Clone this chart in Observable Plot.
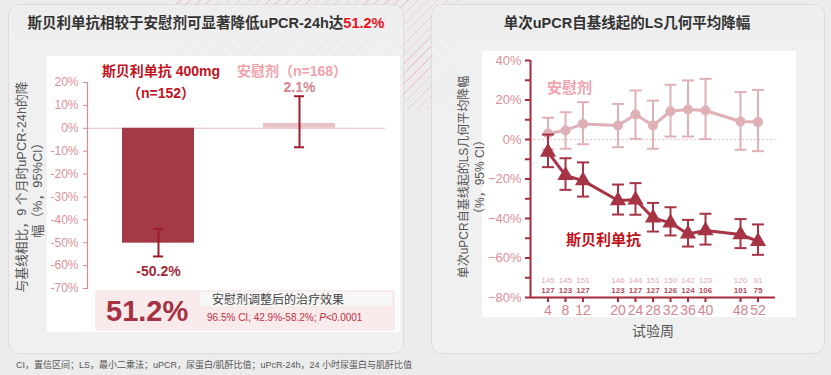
<!DOCTYPE html>
<html><head><meta charset="utf-8">
<script src="https://cdn.jsdelivr.net/npm/d3@7"></script>
<script src="https://cdn.jsdelivr.net/npm/@observablehq/plot@0.6"></script>
<style>
body{margin:0;width:831px;height:375px;overflow:hidden;background:#ececec;font-family:"Liberation Sans","Noto Sans CJK SC",sans-serif;position:relative}
.a{position:absolute}
.card{border:1px solid #dcdcdc;border-radius:11px;background:rgba(242,242,242,0.75)}
.tbar{border-radius:9px;background:#eeeeee;font-weight:bold;font-size:14.5px;color:#333;text-align:center;line-height:34px}
.white{background:#fff}
.rot{transform:rotate(-90deg);transform-origin:center center;text-align:center;color:#555;font-size:13px;line-height:16px;white-space:nowrap}
</style></head><body>
<div class="a" style="left:170px;top:0;width:290px;height:110px;background:repeating-linear-gradient(135deg,rgba(235,150,160,0.35) 0 1px,transparent 1px 7px)"></div>
<div class="a card" style="left:8px;top:4px;width:394px;height:348px"></div>
<div class="a card" style="left:431px;top:4px;width:392px;height:348px"></div>
<div class="a tbar" style="left:12px;top:6px;width:388px;height:34px">斯贝利单抗相较于安慰剂可显著降低uPCR-24h达<span style="color:#e8141c">51.2%</span></div>
<div class="a tbar" style="left:433px;top:6px;width:388px;height:34px">单次uPCR自基线起的LS几何平均降幅</div>
<div class="a white" style="left:47px;top:56px;width:353px;height:276px"></div>
<div class="a white" style="left:482px;top:51px;width:314px;height:266px"></div>

<div id="leftPlot" class="a" style="left:0;top:0;width:410px;height:300px"></div>
<div id="rightPlot" class="a" style="left:430px;top:0;width:380px;height:345px"></div>

<div class="a rot" style="left:-80px;top:171px;width:220px;height:32px;font-size:12.8px">与基线相比，9 个月时uPCR-24h的降<br>幅（%，95%CI）</div>
<div class="a rot" style="left:362px;top:161px;width:220px;height:32px;font-size:12px">单次uPCR自基线起的LS几何平均降幅<br>（%，95% CI）</div>

<div class="a" style="left:60px;top:60px;width:202px;text-align:center;font-weight:bold;font-size:14px;line-height:22px;color:#c0121c">斯贝利单抗 400mg<br>（n=152）</div>
<div class="a" style="left:230px;top:60px;width:124px;text-align:center;font-weight:bold;font-size:14px;line-height:22px;color:#f0a3ac">安慰剂（n=168）</div>

<div class="a" style="left:95px;top:290px;width:300px;height:41px;background:#f9eaec;border-radius:3px"></div>
<div class="a" style="left:200px;top:292px;width:192px;height:14px;background:#f7f7f8"></div>
<div class="a" style="left:106px;top:293px;font-weight:bold;font-size:29px;line-height:36px;color:#a53242">51.2%</div>
<div class="a" style="left:212px;top:293px;font-size:12px;line-height:14px;color:#444">安慰剂调整后的治疗效果</div>
<div class="a" style="left:207px;top:312px;font-size:10px;line-height:12px;color:#c0303c">96.5% CI, 42.9%-58.2%; <i>P</i>&lt;0.0001</div>

<div class="a" style="left:547px;top:76px;font-weight:bold;font-size:15px;color:#f0a3ac">安慰剂</div>
<div class="a" style="left:566px;top:228px;font-weight:bold;font-size:15px;color:#c0121c">斯贝利单抗</div>
<div class="a" style="left:632px;top:320px;font-size:14px;color:#555">试验周</div>

<div class="a" style="left:16px;top:358px;font-size:9px;color:#555">CI，置信区间；LS，最小二乘法；uPCR，尿蛋白/肌酐比值；uPcR-24h，24 小时尿蛋白与肌酐比值</div>
<script>
// ---- Left chart data ----
const groups = ["斯贝利单抗 400mg", "安慰剂"];
const barValues = [-50.2, 2.1];
const barLow = [-56, -8.3];
const barHigh = [-44, 14];
const leftTicks = [20, 10, 0, -10, -20, -30, -40, -50, -60, -70];

// ---- Right chart data ----
const weeks = [4, 8, 12, 20, 24, 28, 32, 36, 40, 48, 52];
const placeboMean = [3.0, 4.6, 7.9, 7.1, 12.7, 7.1, 14.3, 15.2, 14.7, 9.1, 8.8];
const placeboLow = [-5, -4.7, -2.4, -3.9, 0.3, -4.7, 1.5, 1.5, 0.2, -5.2, -5.9];
const placeboHigh = [11, 13.8, 18.9, 18, 24.8, 19.7, 27.7, 29.9, 30.7, 24, 25.1];
const drugMean = [-6.4, -18.2, -20.8, -30.9, -30.5, -39.7, -42.2, -47.8, -46.1, -48.1, -51.6];
const drugLow = [-14, -25.5, -28.9, -38, -38.1, -46.6, -48.6, -54.2, -53.2, -55, -58.4];
const drugHigh = [2.5, -9.5, -11.6, -22.8, -22.1, -32.1, -34.3, -40.7, -37.6, -40.3, -43];
const placeboN = [145, 145, 151, 146, 144, 151, 150, 142, 120, 120, 91];
const drugN = [127, 123, 127, 123, 127, 127, 126, 124, 106, 101, 75];
const rightTicks = [40, 20, 0, -20, -40, -60, -80];
const rightMinor = [30, 10, -10, -30, -50, -70];

// styles
const drugColor = "#a63445", placeboColor = "#dfb1b7";
const barFill = ["#a43a48", "#e7c3c8"];
const leftAxisColor = "#d98a93", axisColor = "#a8293a";
const fontStack = "Liberation Sans, Noto Sans CJK SC, sans-serif";

const bars = groups.map((g, i) => ({g, i, v: barValues[i], lo: barLow[i], hi: barHigh[i]}));

const leftSvg = Plot.plot({
  width: 410, height: 300,
  marginLeft: 87, marginRight: 25, marginTop: 82, marginBottom: 12,
  style: {background: "none", fontFamily: fontStack},
  x: {type: "band", domain: groups, paddingInner: 0.489, paddingOuter: 0.301, align: 0.41, axis: null},
  y: {domain: [-70, 20], axis: null},
  color: {type: "identity"},
  marks: [
    Plot.ruleY([0], {stroke: "#eab8be", strokeWidth: 1}),
    Plot.barY(bars, {x: "g", y: "v", fill: d => barFill[d.i]}),
    Plot.ruleX(bars, {x: "g", y1: "lo", y2: "hi", stroke: "#9b1c2c", strokeWidth: 2}),
    Plot.tickY(bars, {x: "g", y: "lo", insetLeft: 31, insetRight: 31, stroke: "#9b1c2c", strokeWidth: 2}),
    Plot.tickY(bars, {x: "g", y: "hi", insetLeft: 31, insetRight: 31, stroke: "#9b1c2c", strokeWidth: 2}),
    Plot.axisY({ticks: leftTicks, tickFormat: d => d + "%", tickSize: 4, tickPadding: 5, stroke: leftAxisColor, fill: "#dc8f98", fontSize: 12, label: null}),
    Plot.frame({anchor: "left", stroke: leftAxisColor, strokeWidth: 1.2}),
    Plot.text(bars.filter(d => d.v < 0), {x: "g", y: "lo", text: d => d.v.toFixed(1) + "%", dy: 15, fill: "#a32a3a", fontSize: 14, fontWeight: "bold"}),
    Plot.text(bars.filter(d => d.v >= 0), {x: "g", y: "hi", text: d => d.v.toFixed(1) + "%", dy: -9, fill: "#d3848f", fontSize: 14, fontWeight: "bold"})
  ]
});
document.getElementById("leftPlot").append(leftSvg);

const rows = weeks.map((w, i) => ({w, pm: placeboMean[i], pl: placeboLow[i], ph: placeboHigh[i], dm: drugMean[i], dl: drugLow[i], dh: drugHigh[i], pn: placeboN[i], dn: drugN[i]}));
const capSymbol = {draw(ctx, size) { const r = Math.sqrt(size / Math.PI); ctx.moveTo(-r, 0); ctx.lineTo(r, 0); }};

const rightSvg = Plot.plot({
  width: 380, height: 345,
  marginLeft: 100, marginRight: 35, marginTop: 60, marginBottom: 48,
  style: {background: "none", fontFamily: fontStack},
  x: {domain: [0, 56], axis: null},
  y: {domain: [-80, 40], axis: null},
  marks: [
    Plot.ruleY([0], {stroke: "#f0c4c9", strokeDasharray: "2,2", strokeWidth: 1}),
    Plot.axisY({ticks: rightMinor, tickFormat: () => "", tickSize: 5, stroke: axisColor, strokeWidth: 2, label: null}),
    Plot.axisY({ticks: rightTicks, tickFormat: d => (d < 0 ? "\u2212" : "") + Math.abs(d) + "%", tickSize: 5, tickPadding: 4, stroke: axisColor, strokeWidth: 2, fill: "#dc8f98", fontSize: 13, label: null}),
    Plot.axisX({ticks: weeks, tickFormat: d => d, tickSize: 5, tickPadding: 3, stroke: axisColor, strokeWidth: 2, fill: "#d3848f", fontSize: 14, label: null}),
    Plot.ruleX([0], {y1: -80, y2: 40, stroke: axisColor, strokeWidth: 2}),
    Plot.ruleY([-80], {stroke: axisColor, strokeWidth: 2}),
    Plot.ruleX(rows, {x: "w", y1: "pl", y2: "ph", stroke: placeboColor, strokeWidth: 2}),
    Plot.dot(rows, {x: "w", y: "pl", symbol: capSymbol, r: 6, stroke: placeboColor, strokeWidth: 2}),
    Plot.dot(rows, {x: "w", y: "ph", symbol: capSymbol, r: 6, stroke: placeboColor, strokeWidth: 2}),
    Plot.line(rows, {x: "w", y: "pm", stroke: placeboColor, strokeWidth: 3}),
    Plot.dot(rows, {x: "w", y: "pm", r: 5, fill: placeboColor}),
    Plot.ruleX(rows, {x: "w", y1: "dl", y2: "dh", stroke: drugColor, strokeWidth: 2}),
    Plot.dot(rows, {x: "w", y: "dl", symbol: capSymbol, r: 6, stroke: drugColor, strokeWidth: 2}),
    Plot.dot(rows, {x: "w", y: "dh", symbol: capSymbol, r: 6, stroke: drugColor, strokeWidth: 2}),
    Plot.line(rows, {x: "w", y: "dm", stroke: drugColor, strokeWidth: 3}),
    Plot.dot(rows, {x: "w", y: "dm", symbol: "triangle", r: 6, fill: drugColor}),
    Plot.text(rows, {x: "w", text: "pn", frameAnchor: "bottom", dy: -15, fill: "#e3a5ad", fontSize: 8}),
    Plot.text(rows, {x: "w", text: "dn", frameAnchor: "bottom", dy: -5, fill: "#b04d5c", fontSize: 8, fontWeight: "bold"})
  ]
});
document.getElementById("rightPlot").append(rightSvg);
</script>
</body></html>
